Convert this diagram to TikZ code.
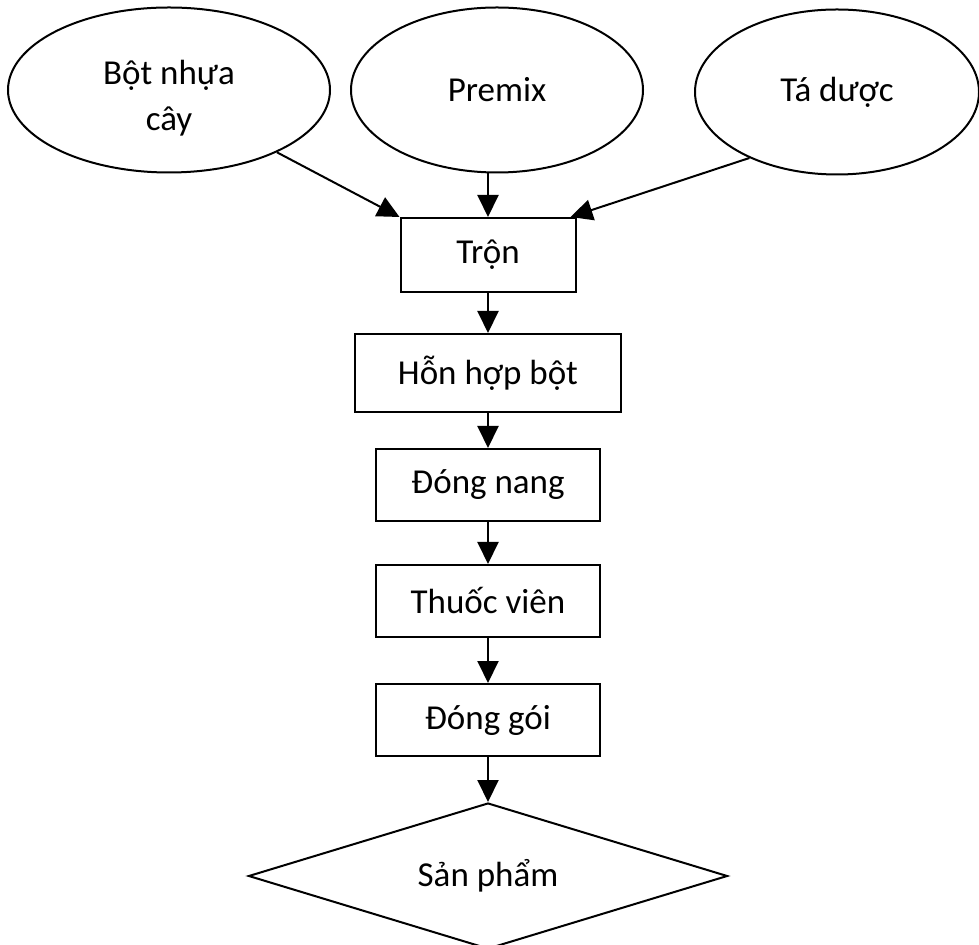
\documentclass[tikz,border=0pt]{standalone}
\usepackage{fontspec}
\setmainfont{Carlito}
\usepackage{tikz}
\usetikzlibrary{positioning, arrows.meta, shapes.geometric}

\begin{document}
\begin{tikzpicture}[
   x=0.5pt, y=-0.5pt,
   oval/.style={draw, ellipse, line width=1pt, align=center, inner sep=0pt,
         minimum width=161pt, minimum height=82.5pt},
   box/.style={draw, line width=1pt, align=center,
         minimum width=112pt, minimum height=36pt},
   prodbox/.style={draw, diamond, line width=1pt, aspect=3.3, inner sep=0pt,
         minimum width=239.5pt, minimum height=73pt},
   arr/.style={-{Triangle[length=11pt, width=10.5pt]}, line width=1pt},
   font=\fontsize{17.5}{23}\selectfont,
  ]
  \useasboundingbox (0,0) rectangle (979,945);

  \node[oval, label={[align=center, yshift=-4pt]center:Bột nhựa\\cây}] (resin) at (169,90) {};
  \node[oval, minimum width=146pt] (premix) at (497,90) {Premix};
  \node[oval, minimum width=142pt] (excip) at (837,92) {Tá dược};

  \node[box, minimum width=87.5pt, minimum height=37pt] (tron) at (488,255) {Trộn};
  \node[box, minimum width=133pt, minimum height=39pt, below=20pt of tron] (mix) {Hỗn hợp bột};
  \node[box, below=17.5pt of mix] (fill) {Đóng nang};
  \node[box, below=21pt of fill] (pill) {Thuốc viên};
  \node[box, below=22.5pt of pill] (pack) {Đóng gói};
  \node[prodbox, below=22.5pt of pack] (prod) {Sản phẩm};

  \draw[arr] (resin.-30) -- (tron.north west);
  \draw[arr] (premix.south -| tron.north) -- (tron.north);
  \draw[arr] (excip.-143) -- ([xshift=-3pt]tron.north east);
  \draw[arr] (tron) -- (mix);
  \draw[arr] (mix) -- (fill);
  \draw[arr] (fill) -- (pill);
  \draw[arr] (pill) -- (pack);
  \draw[arr] (pack) -- (prod);
 \end{tikzpicture}
\end{document}
